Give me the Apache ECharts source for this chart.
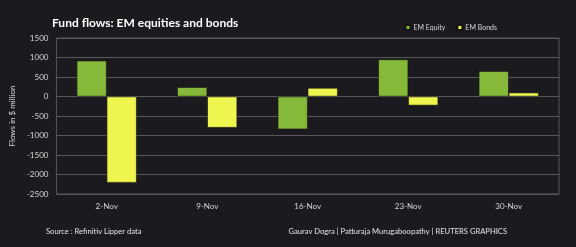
<!DOCTYPE html>
<html>
<head>
<meta charset="utf-8">
<script src="https://cdn.jsdelivr.net/npm/echarts@6/dist/echarts.min.js"></script>
<style>
  html, body { margin: 0; padding: 0; background: #1b1a1f; }
  #chart { width: 576px; height: 247px; }
</style>
</head>
<body>
<div id="chart"></div>
<script>
const weeks = ['2-Nov', '9-Nov', '16-Nov', '23-Nov', '30-Nov']
const equityFlows = [920, 240, -840, 950, 650]
const bondFlows = [-2210, -800, 220, -230, 100]
const yTicks = { min: -2500, max: 1500, step: 500 }

const chart = echarts.init(document.getElementById('chart'))

const labelFont = { color: '#d8d8d8', fontSize: 8, fontFamily: 'Lato' }

chart.setOption({
  backgroundColor: '#1b1a1f',
  animation: false,
  title: {
    text: 'Fund flows: EM equities and bonds',
    left: 47,
    top: 12,
    textStyle: { color: '#ffffff', fontSize: 12, fontWeight: 'bold', fontFamily: 'Lato' }
  },
  legend: {
    right: 74,
    top: 19,
    itemWidth: 5,
    itemHeight: 5,
    itemGap: 11,
    icon: 'rect',
    textStyle: { color: '#d8d8d8', fontSize: 7, fontFamily: 'Lato', padding: [0, 0, 0, -2] }
  },
  graphic: [
    {
      type: 'text',
      left: 46,
      top: 228,
      style: { text: 'Source : Refinitiv Lipper data', fill: '#e6e6e6', fontSize: 7.6, fontFamily: 'Lato' }
    },
    {
      type: 'text',
      right: 69,
      top: 228,
      style: { text: 'Gaurav Dogra | Patturaja Murugaboopathy | REUTERS GRAPHICS', fill: '#e6e6e6', fontSize: 7.6, fontFamily: 'Lato' }
    }
  ],
  grid: {
    left: 50,
    right: 17,
    top: 38,
    bottom: 53,
    show: true,
    borderColor: '#58585c',
    borderWidth: 1
  },
  xAxis: {
    type: 'category',
    data: weeks,
    axisLine: { show: false },
    axisTick: { show: false },
    axisLabel: { ...labelFont, margin: 8 }
  },
  yAxis: {
    type: 'value',
    min: yTicks.min,
    max: yTicks.max,
    interval: yTicks.step,
    name: 'Flows in $ million',
    nameLocation: 'middle',
    nameGap: 31,
    nameTextStyle: { color: '#d8d8d8', fontSize: 8, fontFamily: 'Lato' },
    axisLine: { show: false },
    axisTick: { show: false },
    axisLabel: { ...labelFont, margin: 8, formatter: v => String(v) },
    splitLine: { lineStyle: { color: '#58585c', width: 1 } }
  },
  series: [
    {
      name: 'EM Equity',
      type: 'bar',
      data: equityFlows,
      barGap: '0%',
      barWidth: 30,
      itemStyle: { color: '#86b83a', borderColor: '#141414', borderWidth: 0.6 }
    },
    {
      name: 'EM Bonds',
      type: 'bar',
      data: bondFlows,
      barWidth: 30,
      itemStyle: { color: '#eef54f', borderColor: '#141414', borderWidth: 0.6 }
    }
  ]
})
</script>
</body>
</html>
